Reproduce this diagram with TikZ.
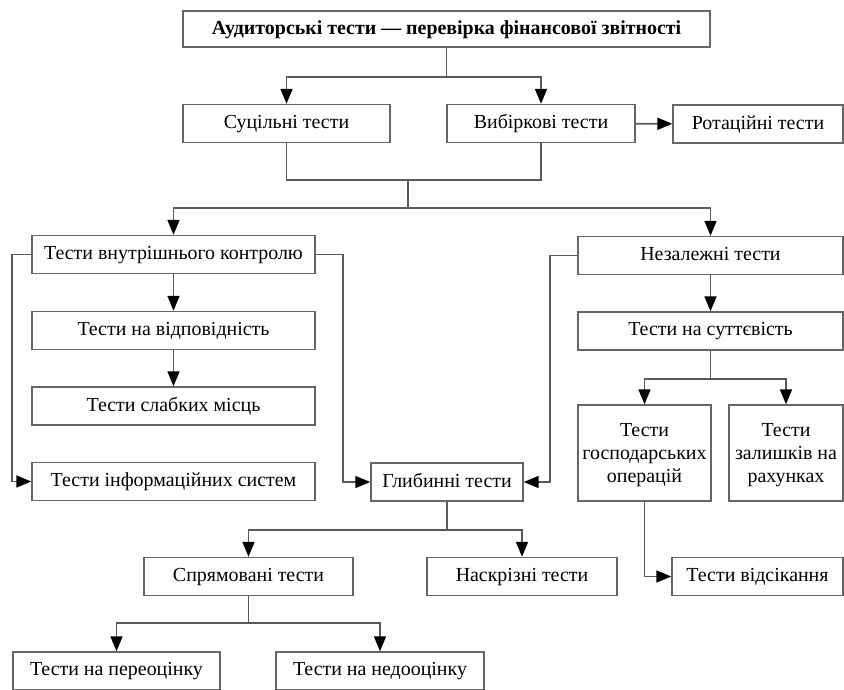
\documentclass[tikz,border=0pt]{standalone}
\usepackage{fontspec}
\setmainfont{Liberation Serif}
\usepackage{tikz}
\usetikzlibrary{arrows.meta}

\begin{document}
\begin{tikzpicture}[x=0.03cm, y=-0.03cm,
    box/.style={draw=black!60, line width=1.2pt, fill=white, inner sep=2pt,
        minimum height=1.14cm, align=center, text depth=0.1cm,
        font=\fontsize{17}{19.5}\selectfont},
    conn/.style={draw=black!65, line width=1.4pt},
    arr/.style={conn, -{Triangle[length=0.45cm, width=0.36cm, color=black]}}]
    \useasboundingbox (0,0) rectangle (844,689);

    % Top level
    \node[box, minimum width=15.81cm, minimum height=1.08cm,
        font=\fontsize{17}{19.5}\selectfont\bfseries] (audit) at (446.5,29)
        {Аудиторські тести — перевірка фінансової звітності};
    \node[box, minimum width=6.21cm] (sucil) at (286.5,123.5) {Суцільні тести};
    \node[box, minimum width=5.64cm] (vybir) at (541,123.5) {Вибіркові тести};
    \node[box, minimum width=5.10cm] (rotac) at (758,124) {Ротаційні тести};

    % Internal control branch
    \node[box, minimum width=8.49cm] (vnutr) at (173.5,254.5) {Тести внутрішнього контролю};
    \node[box, minimum width=8.49cm] (vidpov) at (173.5,330.5) {Тести на відповідність};
    \node[box, minimum width=8.49cm] (slab) at (173.5,406) {Тести слабких місць};
    \node[box, minimum width=8.49cm] (inform) at (173.5,481.5) {Тести інформаційних систем};

    % Independent branch
    \node[box, minimum width=7.95cm] (nezal) at (710.5,255.5) {Незалежні тести};
    \node[box, minimum width=7.95cm] (sutt) at (710.5,331) {Тести на суттєвість};
    \node[box, minimum width=3.99cm, minimum height=2.88cm, text depth=0pt] (gosp) at (644.5,453)
        {Тести\\господарських\\операцій};
    \node[box, minimum width=3.42cm, minimum height=2.88cm, text depth=0pt] (zal) at (786,453)
        {Тести\\залишків на\\рахунках};
    \node[box, minimum width=5.13cm] (vidsik) at (757.5,576.5) {Тести відсікання};

    % Substantive tests
    \node[box, minimum width=4.56cm] (glyb) at (447,482) {Глибинні тести};
    \node[box, minimum width=6.27cm] (spryam) at (248.5,576.5) {Спрямовані тести};
    \node[box, minimum width=5.70cm] (naskr) at (522,576.5) {Наскрізні тести};
    \node[box, minimum width=6.21cm] (pereots) at (116.5,671) {Тести на переоцінку};
    \node[box, minimum width=6.24cm] (nedoots) at (380,671) {Тести на недооцінку};

    % Connectors
    \draw[arr] (audit.south) -- ++(0,29) -| (sucil.north);
    \draw[arr] (audit.south) -- ++(0,29) -| (vybir.north);
    \draw[arr] (vybir) -- (rotac);

    \coordinate (join) at (408,180);
    \draw[conn] (sucil.south) |- (join) -| (vybir.south);
    \draw[arr] (join) -- ++(0,28) -| (vnutr.north);
    \draw[arr] (join) -- ++(0,28) -| (nezal.north);

    \draw[arr] (vnutr) -- (vidpov);
    \draw[arr] (vidpov) -- (slab);
    \draw[arr] (vnutr.west) -- ++(-19,0) |- (inform.west);
    \draw[arr] (vnutr.east) -- ++(27,0) |- (glyb.west);
    \draw[arr] (nezal.west) -- ++(-27,0) |- (glyb.east);

    \draw[arr] (nezal) -- (sutt);
    \draw[arr] (sutt.south) -- ++(0,28) -| (gosp.north);
    \draw[arr] (sutt.south) -- ++(0,28) -| (zal.north);
    \draw[arr] (gosp.south) |- (vidsik.west);

    \draw[arr] (glyb.south) -- ++(0,28) -| (spryam.north);
    \draw[arr] (glyb.south) -- ++(0,28) -| (naskr.north);
    \draw[arr] (spryam.south) -- ++(0,27) -| (pereots.north);
    \draw[arr] (spryam.south) -- ++(0,27) -| (nedoots.north);
\end{tikzpicture}
\end{document}
